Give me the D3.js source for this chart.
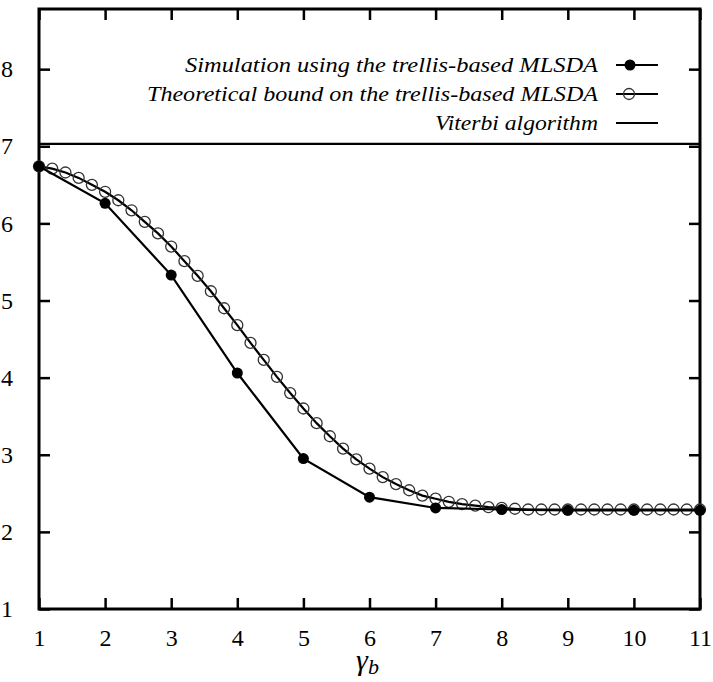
<!DOCTYPE html>
<html>
<head>
<meta charset="utf-8">
<script src="https://cdn.jsdelivr.net/npm/d3@7"></script>
<style>
  html, body { margin: 0; padding: 0; background: #fff; }
  svg { display: block; }
</style>
</head>
<body>
<svg id="chart" width="713" height="682"></svg>
<script>
// ---- data ----
const simX = [1, 2, 3, 4, 5, 6, 7, 8, 9, 10, 11];
const simY = [6.74, 6.26, 5.33, 4.06, 2.95, 2.45, 2.31, 2.29, 2.28, 2.28, 2.28];

const boundX = [1.0, 1.2, 1.4, 1.6, 1.8, 2.0, 2.2, 2.4, 2.6, 2.8,
                3.0, 3.2, 3.4, 3.6, 3.8, 4.0, 4.2, 4.4, 4.6, 4.8,
                5.0, 5.2, 5.4, 5.6, 5.8, 6.0, 6.2, 6.4, 6.6, 6.8,
                7.0, 7.2, 7.4, 7.6, 7.8, 8.0, 8.2, 8.4, 8.6, 8.8,
                9.0, 9.2, 9.4, 9.6, 9.8, 10.0, 10.2, 10.4, 10.6, 10.8, 11.0];
const boundY = [6.74, 6.71, 6.66, 6.59, 6.50, 6.41, 6.30, 6.17, 6.02, 5.87,
                5.70, 5.51, 5.32, 5.12, 4.90, 4.68, 4.45, 4.23, 4.01, 3.80,
                3.60, 3.41, 3.24, 3.08, 2.94, 2.82, 2.71, 2.62, 2.54, 2.47,
                2.43, 2.39, 2.36, 2.34, 2.32, 2.31, 2.30, 2.29, 2.29, 2.29,
                2.29, 2.29, 2.29, 2.29, 2.29, 2.29, 2.29, 2.29, 2.29, 2.29, 2.29];

const viterbiY = 7.03;

const xTicks = [1, 2, 3, 4, 5, 6, 7, 8, 9, 10, 11];
const yTicks = [1, 2, 3, 4, 5, 6, 7, 8];

const legendLabels = [
  "Simulation using the trellis-based MLSDA",
  "Theoretical bound on the trellis-based MLSDA",
  "Viterbi algorithm"
];

// ---- layout ----
const svg = d3.select("#chart");
const L = 39, R = 700, T = 9, B = 609;
const SERIF = '"Liberation Serif", "Times New Roman", serif';

const x = d3.scaleLinear().domain([1, 11]).range([L, R]);
const y = d3.scaleLinear().domain([1, 8.78]).range([B, T]);

function styleAxis(g) {
  g.attr("font-family", null).attr("font-size", null);
  g.select(".domain").remove();
  g.selectAll(".tick line").attr("stroke", "#000").attr("stroke-width", 2.5);
  g.selectAll(".tick text").attr("fill", "#000")
    .style("font-family", SERIF)
    .style("font-size", "24px");
}

svg.append("g").attr("transform", `translate(0,${B})`)
  .call(d3.axisBottom(x).tickValues(xTicks).tickFormat(d3.format("d"))
        .tickSizeInner(-11).tickSizeOuter(0).tickPadding(20))
  .call(styleAxis);

svg.append("g").attr("transform", `translate(0,${T})`)
  .call(d3.axisTop(x).tickValues(xTicks).tickFormat("")
        .tickSizeInner(-11).tickSizeOuter(0))
  .call(styleAxis);

svg.append("g").attr("transform", `translate(${L},0)`)
  .call(d3.axisLeft(y).tickValues(yTicks).tickFormat(d3.format("d"))
        .tickSizeInner(-11).tickSizeOuter(0).tickPadding(26))
  .call(styleAxis);

svg.append("g").attr("transform", `translate(${R},0)`)
  .call(d3.axisRight(y).tickValues(yTicks).tickFormat("")
        .tickSizeInner(-11).tickSizeOuter(0))
  .call(styleAxis);

// frame
svg.append("rect")
  .attr("x", L).attr("y", T).attr("width", R - L).attr("height", B - T)
  .attr("fill", "none").attr("stroke", "#000").attr("stroke-width", 3);

// x axis title gamma_b
const xt = svg.append("text")
  .attr("x", x(6) - 2).attr("y", 670)
  .attr("text-anchor", "middle")
  .style("font-family", SERIF)
  .style("font-style", "italic")
  .style("font-size", "30px");
xt.append("tspan").text("γ");
xt.append("tspan").attr("dy", 4).style("font-size", "22px").text("b");

// Viterbi line
svg.append("line")
  .attr("x1", x(1)).attr("x2", x(11))
  .attr("y1", y(viterbiY)).attr("y2", y(viterbiY))
  .attr("stroke", "#000").attr("stroke-width", 2.2);

// theoretical bound
const bound = boundX.map((d, i) => [d, boundY[i]]);
const sim = simX.map((d, i) => [d, simY[i]]);
const line = d3.line().x(d => x(d[0])).y(d => y(d[1]));

svg.append("path").datum(bound).attr("d", line)
  .attr("fill", "none").attr("stroke", "#000").attr("stroke-width", 2.2);

svg.append("g").selectAll("circle").data(bound).join("circle")
  .attr("cx", d => x(d[0])).attr("cy", d => y(d[1])).attr("r", 5.5)
  .attr("fill", "none").attr("stroke", "#333").attr("stroke-width", 1.3);

svg.append("path").datum(sim).attr("d", line)
  .attr("fill", "none").attr("stroke", "#000").attr("stroke-width", 2.2);

svg.append("g").selectAll("circle").data(sim).join("circle")
  .attr("cx", d => x(d[0])).attr("cy", d => y(d[1])).attr("r", 5.5)
  .attr("fill", "#000");

// legend
const legRowY = [65, 94, 123];
const legTextRight = 598;
const legLineX1 = 616, legLineX2 = 658, legMarkX = 630;
const legTextLen = [413, 451, 163];

legendLabels.forEach((lab, i) => {
  const yy = legRowY[i];
  svg.append("text")
    .attr("x", legTextRight).attr("y", yy + 7)
    .attr("text-anchor", "end")
    .attr("textLength", legTextLen[i])
    .attr("lengthAdjust", "spacingAndGlyphs")
    .style("font-family", SERIF)
    .style("font-style", "italic")
    .style("font-size", "22px")
    .text(lab);
  svg.append("line")
    .attr("x1", legLineX1).attr("x2", legLineX2).attr("y1", yy).attr("y2", yy)
    .attr("stroke", "#000").attr("stroke-width", 2.2);
  if (i === 0) {
    svg.append("circle").attr("cx", legMarkX).attr("cy", yy).attr("r", 5.5).attr("fill", "#000");
  } else if (i === 1) {
    svg.append("circle").attr("cx", legMarkX - 1).attr("cy", yy).attr("r", 5.5)
      .attr("fill", "none").attr("stroke", "#333").attr("stroke-width", 1.3);
  }
});
</script>
</body>
</html>
